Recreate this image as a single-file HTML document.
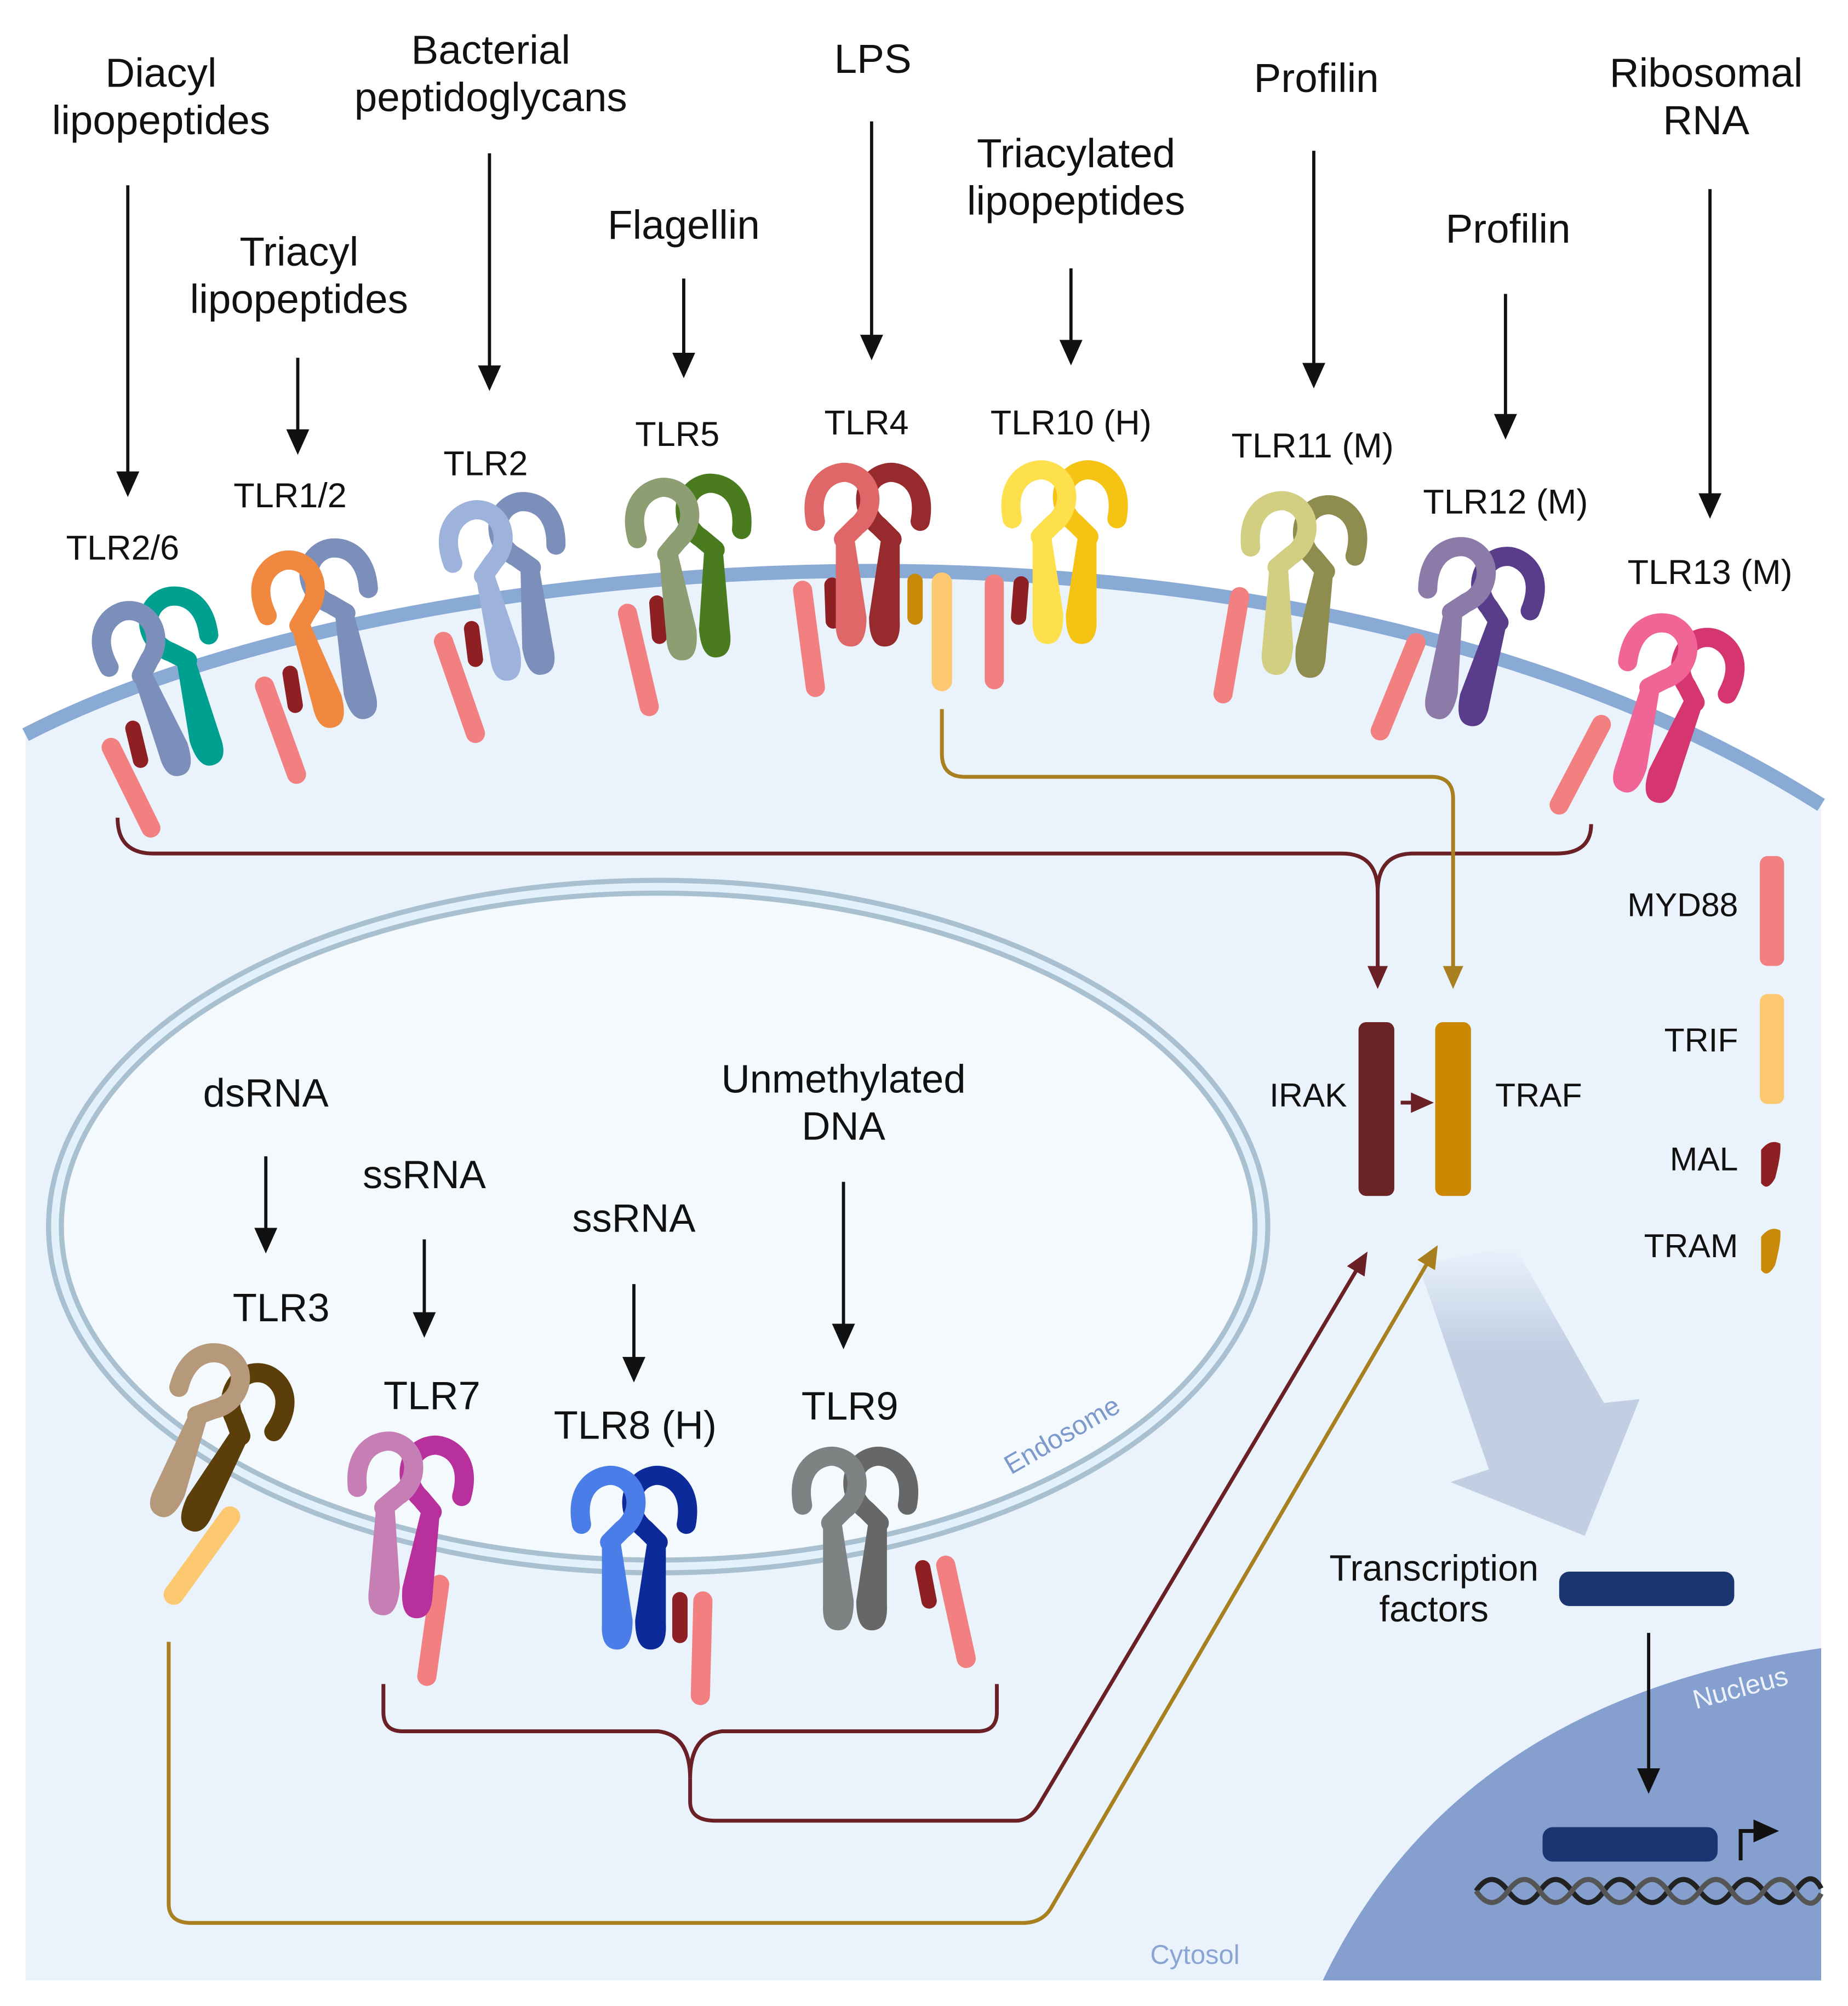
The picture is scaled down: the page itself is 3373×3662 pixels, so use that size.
<!DOCTYPE html>
<html><head><meta charset="utf-8"><style>
html,body{margin:0;padding:0;background:#fff}
svg{display:block}
text{font-family:"Liberation Sans",sans-serif;fill:#111}
</style></head><body>
<svg width="3373" height="3662" viewBox="0 0 1446 1570" preserveAspectRatio="none" xmlns="http://www.w3.org/2000/svg">
<defs>
<g id="mono">
<path d="M-20,40 C-26,8 -4,0 6,2 C26,6 28,32 12,44 L2,54" fill="none" stroke="currentColor" stroke-width="15" stroke-linecap="round" stroke-linejoin="round"/>
<path d="M-4,50 L10,50 L20,115 Q20,138 8,138 Q-5,138 -4,118 Z" fill="currentColor"/>
</g>
<marker id="ar" markerWidth="18" markerHeight="16" refX="14" refY="8" orient="auto" markerUnits="userSpaceOnUse"><path d="M0,0 L18,8 L0,16 Z" fill="#6b2026"/></marker>
<marker id="ag" markerWidth="18" markerHeight="16" refX="14" refY="8" orient="auto" markerUnits="userSpaceOnUse"><path d="M0,0 L18,8 L0,16 Z" fill="#a8801f"/></marker>
<marker id="kb" markerWidth="20" markerHeight="18" refX="16" refY="9" orient="auto" markerUnits="userSpaceOnUse"><path d="M0,0 L20,9 L0,18 Z" fill="#111"/></marker>
<linearGradient id="fz" x1="0" y1="0" x2="0" y2="1"><stop offset="0" stop-color="#c2cfe3" stop-opacity="0"/><stop offset="0.35" stop-color="#c2cfe3"/><stop offset="1" stop-color="#c2cfe3"/></linearGradient>
</defs>

<path d="M20,575 C300,430 1000,360 1425,630 L1425,1550 L20,1550 Z" fill="#eaf3fc"/>
<path d="M20,575 C300,430 1000,360 1425,630" fill="none" stroke="#8aaad6" stroke-width="11"/>
<path d="M1035,1550 Q1140,1330 1425,1290 L1425,1550 Z" fill="#85a0cf"/>
<ellipse cx="515" cy="960" rx="472" ry="266" fill="#f4f9fd" stroke="#a9c0d0" stroke-width="14"/>
<ellipse cx="515" cy="960" rx="472" ry="266" fill="none" stroke="#e2f1fb" stroke-width="6"/>

<path d="M1110,990 L1185,975 L1255,1098 L1283,1095 L1240,1202 L1135,1160 L1165,1150 Z" fill="url(#fz)"/>

<g font-size="32" text-anchor="middle">
<text x="126" y="68">Diacyl</text><text x="126" y="105">lipopeptides</text>
<text x="234" y="208">Triacyl</text><text x="234" y="245">lipopeptides</text>
<text x="384" y="50">Bacterial</text><text x="384" y="87">peptidoglycans</text>
<text x="535" y="187">Flagellin</text>
<text x="683" y="57">LPS</text>
<text x="842" y="131">Triacylated</text><text x="842" y="168">lipopeptides</text>
<text x="1030" y="72">Profilin</text>
<text x="1180" y="190">Profilin</text>
<text x="1335" y="68">Ribosomal</text><text x="1335" y="105">RNA</text>
</g>
<g stroke="#111" stroke-width="2.5" marker-end="url(#kb)">
<line x1="100" y1="145" x2="100" y2="385"/>
<line x1="233" y1="280" x2="233" y2="352"/>
<line x1="383" y1="120" x2="383" y2="302"/>
<line x1="535" y1="218" x2="535" y2="292"/>
<line x1="682" y1="95" x2="682" y2="278"/>
<line x1="838" y1="210" x2="838" y2="282"/>
<line x1="1028" y1="118" x2="1028" y2="300"/>
<line x1="1178" y1="230" x2="1178" y2="340"/>
<line x1="1338" y1="148" x2="1338" y2="402"/>
<line x1="208" y1="905" x2="208" y2="977"/>
<line x1="332" y1="970" x2="332" y2="1043"/>
<line x1="496" y1="1005" x2="496" y2="1078"/>
<line x1="660" y1="925" x2="660" y2="1052"/>
<line x1="1290" y1="1278" x2="1290" y2="1400"/>
</g>
<g font-size="27" text-anchor="middle">
<text x="96" y="438">TLR2/6</text>
<text x="227" y="397">TLR1/2</text>
<text x="380" y="372">TLR2</text>
<text x="530" y="349">TLR5</text>
<text x="678" y="340">TLR4</text>
<text x="838" y="340">TLR10 (H)</text>
<text x="1027" y="358">TLR11 (M)</text>
<text x="1178" y="402">TLR12 (M)</text>
<text x="1338" y="457">TLR13 (M)</text>
</g>
<g font-size="31" text-anchor="middle">
<text x="208" y="866">dsRNA</text>
<text x="220" y="1034">TLR3</text>
<text x="332" y="930">ssRNA</text>
<text x="338" y="1103">TLR7</text>
<text x="496" y="964">ssRNA</text>
<text x="497" y="1126">TLR8 (H)</text>
<text x="660" y="855">Unmethylated</text><text x="660" y="892">DNA</text>
<text x="665" y="1111">TLR9</text>
</g>

<g stroke-linecap="round" fill="none">
<g stroke="#f28080" stroke-width="15">
<line x1="87" y1="585" x2="118" y2="648"/>
<line x1="207" y1="537" x2="232" y2="606"/>
<line x1="347" y1="502" x2="372" y2="574"/>
<line x1="491" y1="480" x2="508" y2="553"/>
<line x1="628" y1="462" x2="638" y2="538"/>
<line x1="778" y1="457" x2="778" y2="532"/>
<line x1="970" y1="467" x2="957" y2="543"/>
<line x1="1108" y1="503" x2="1080" y2="572"/>
<line x1="1253" y1="567" x2="1220" y2="630"/>
<line x1="344" y1="1240" x2="334" y2="1312"/>
<line x1="550" y1="1253" x2="548" y2="1327"/>
<line x1="740" y1="1225" x2="756" y2="1298"/>
</g>
<g stroke="#8e1f22" stroke-width="12">
<line x1="104" y1="570" x2="110" y2="595"/>
<line x1="227" y1="527" x2="231" y2="552"/>
<line x1="369" y1="492" x2="372" y2="516"/>
<line x1="514" y1="472" x2="516" y2="498"/>
<line x1="651" y1="458" x2="652" y2="486"/>
<line x1="799" y1="457" x2="797" y2="483"/>
<line x1="532" y1="1252" x2="532" y2="1280"/>
<line x1="722" y1="1227" x2="727" y2="1253"/>
</g>
<line x1="716" y1="455" x2="716" y2="483" stroke="#c98a0a" stroke-width="12"/>
<line x1="737" y1="456" x2="737" y2="533" stroke="#fcc870" stroke-width="16"/>
<line x1="180" y1="1187" x2="136" y2="1248" stroke="#fcc870" stroke-width="16"/>
</g>

<g transform="translate(92,478) rotate(-18)"><use href="#mono" transform="translate(42,0) scale(-1,1)" color="#00a091"/><use href="#mono" color="#7b8fba"/></g>
<g transform="translate(218,438) rotate(-15)"><use href="#mono" transform="translate(42,0) scale(-1,1)" color="#7b8fba"/><use href="#mono" color="#f0883f"/></g>
<g transform="translate(367,398) rotate(-10)"><use href="#mono" transform="translate(42,0) scale(-1,1)" color="#7b8fba"/><use href="#mono" color="#9db3dc"/></g>
<g transform="translate(515,380) rotate(-5)"><use href="#mono" transform="translate(42,0) scale(-1,1)" color="#4a7c1f"/><use href="#mono" color="#8c9e72"/></g>
<g transform="translate(658,368)"><use href="#mono" transform="translate(42,0) scale(-1,1)" color="#962a2c"/><use href="#mono" color="#e06767"/></g>
<g transform="translate(812,366)"><use href="#mono" transform="translate(42,0) scale(-1,1)" color="#f5c313"/><use href="#mono" color="#fde04c"/></g>
<g transform="translate(1002,390) rotate(5)"><use href="#mono" transform="translate(42,0) scale(-1,1)" color="#8f8c4f"/><use href="#mono" color="#d2ce82"/></g>
<g transform="translate(1145,426) rotate(12)"><use href="#mono" transform="translate(42,0) scale(-1,1)" color="#5a3d8a"/><use href="#mono" color="#8c7aa8"/></g>
<g transform="translate(1305,486) rotate(18)"><use href="#mono" transform="translate(42,0) scale(-1,1)" color="#d63670"/><use href="#mono" color="#f06496"/></g>
<g transform="translate(175,1058) rotate(25)"><use href="#mono" transform="translate(42,0) scale(-1,1)" color="#5c3e0a"/><use href="#mono" color="#b5997a"/></g>
<g transform="translate(303,1126) rotate(5)"><use href="#mono" transform="translate(42,0) scale(-1,1)" color="#b7309b"/><use href="#mono" color="#c57fb5"/></g>
<g transform="translate(475,1153)"><use href="#mono" transform="translate(42,0) scale(-1,1)" color="#0d2a9a"/><use href="#mono" color="#4a7de8"/></g>
<g transform="translate(648,1138)"><use href="#mono" transform="translate(42,0) scale(-1,1)" color="#676767"/><use href="#mono" color="#7f8283"/></g>

<g fill="none" stroke-width="3">
<path d="M92,640 Q92,668 120,668 L1050,668 Q1078,668 1078,698 L1078,770" stroke="#6b2026" marker-end="url(#ar)"/>
<path d="M1245,645 Q1245,668 1218,668 L1106,668 Q1078,668 1078,698" stroke="#6b2026"/>
<path d="M737,555 L737,590 Q737,608 755,608 L1120,608 Q1137,608 1137,625 L1137,770" stroke="#a8801f" marker-end="url(#ag)"/>
<path d="M300,1318 L300,1340 Q300,1355 315,1355 L515,1355 Q540,1358 540,1392 Q540,1358 565,1355 L765,1355 Q780,1355 780,1340 L780,1318" stroke="#6b2026"/>
<path d="M540,1392 L540,1410 Q540,1425 560,1425 L795,1425 Q805,1425 812,1414 L1068,983" stroke="#6b2026" marker-end="url(#ar)"/>
<path d="M132,1285 L132,1490 Q132,1505 150,1505 L800,1505 Q815,1505 822,1494 L1123,978" stroke="#a8801f" marker-end="url(#ag)"/>
<line x1="1096" y1="863" x2="1118" y2="863" stroke="#6b2026" marker-end="url(#ar)"/>
</g>
<rect x="1063" y="800" width="28" height="136" rx="6" fill="#6b2426"/>
<rect x="1123" y="800" width="28" height="136" rx="6" fill="#cc8800"/>
<g font-size="26">
<text x="1054" y="866" text-anchor="end">IRAK</text>
<text x="1170" y="866">TRAF</text>
<text x="1360" y="717" text-anchor="end">MYD88</text>
<text x="1360" y="823" text-anchor="end">TRIF</text>
<text x="1360" y="916" text-anchor="end">MAL</text>
<text x="1360" y="984" text-anchor="end">TRAM</text>
</g>
<g font-size="28.5" text-anchor="middle">
<text x="1122" y="1237">Transcription</text>
<text x="1122" y="1269">factors</text>
</g>
<rect x="1377" y="670" width="19" height="86" rx="6" fill="#f28080"/>
<rect x="1377" y="778" width="19" height="86" rx="6" fill="#fcc870"/>
<path d="M1378,900 Q1385,891 1393,895 Q1394,903 1389,922 Q1383,933 1378,926 Z" fill="#8e1f22"/>
<path d="M1378,968 Q1385,959 1393,963 Q1394,971 1389,990 Q1383,1001 1378,994 Z" fill="#c98a0a"/>

<rect x="1220" y="1230" width="137" height="27" rx="8" fill="#1b3570"/>
<rect x="1207" y="1430" width="137" height="27" rx="8" fill="#1b3570"/>
<path d="M1362,1456 L1362,1433 L1388,1433" fill="none" stroke="#111" stroke-width="3" marker-end="url(#kb)"/>
<path d="M1155,1480 Q1167,1462 1180,1480 T1205,1480 T1230,1480 T1255,1480 T1280,1480 T1305,1480 T1330,1480 T1355,1480 T1380,1480 T1405,1480 T1425,1478" fill="none" stroke="#222" stroke-width="4"/>
<path d="M1155,1480 Q1167,1498 1180,1480 T1205,1480 T1230,1480 T1255,1480 T1280,1480 T1305,1480 T1330,1480 T1355,1480 T1380,1480 T1405,1480 T1425,1482" fill="none" stroke="#555" stroke-width="4"/>

<text x="832" y="1130" font-size="21" style="fill:#7c99cc" text-anchor="middle" transform="rotate(-30 832 1125)">Endosome</text>
<text x="935" y="1537" font-size="21" style="fill:#8aa4d4" text-anchor="middle">Cytosol</text>
<text x="1362" y="1328" font-size="21" style="fill:#eef3fb" text-anchor="middle" transform="rotate(-15 1362 1322)">Nucleus</text>
</svg>
</body></html>
